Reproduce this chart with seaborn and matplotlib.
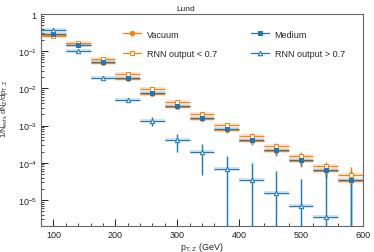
import matplotlib
matplotlib.use("Agg")
import matplotlib.pyplot as plt
import matplotlib.ticker as mticker
from matplotlib.lines import Line2D
import numpy as np
import pandas as pd
import seaborn as sns

# bin centres (GeV), bins are 40 GeV wide
pt_centres = [100, 140, 180, 220, 260, 300, 340, 380, 420, 460, 500, 540, 580]
half_width = 20

vacuum = [0.27, 0.145, 0.047, 0.018, 0.0072, 0.0032, 0.0015, 0.00075, 0.00038, 0.00021, 0.00011, 6.0e-5, 3.3e-5]
vacuum_lo = [0.26, 0.14, 0.045, 0.017, 0.0068, 0.0030, 0.0013, 0.00062, 0.00030, 0.00015, 7.5e-5, 4.0e-5, 2.5e-5]
vacuum_hi = [0.28, 0.15, 0.049, 0.019, 0.0076, 0.0035, 0.0017, 0.00090, 0.00047, 0.00029, 0.00015, 8.5e-5, 7.9e-5]

medium = [0.29, 0.15, 0.050, 0.019, 0.0075, 0.0034, 0.0016, 0.00079, 0.00040, 0.00022, 0.000117, 6.3e-5, 3.5e-5]
medium_lo = [0.28, 0.145, 0.048, 0.018, 0.0071, 0.0032, 0.0014, 0.00068, 0.00033, 0.00016, 8.0e-5, 4.2e-5, 1e-7]
medium_hi = [0.30, 0.155, 0.052, 0.020, 0.0079, 0.0036, 0.0018, 0.00092, 0.00048, 0.00029, 0.00016, 9.0e-5, 5.5e-5]

rnn_low = [0.26, 0.17, 0.061, 0.024, 0.0095, 0.0044, 0.0021, 0.00105, 0.00053, 0.00028, 0.00015, 8.3e-5, 4.6e-5]
rnn_low_lo = [0.25, 0.165, 0.059, 0.023, 0.0090, 0.0041, 0.0019, 0.00093, 0.00045, 0.00023, 0.00012, 6.5e-5, 3.3e-5]
rnn_low_hi = [0.27, 0.175, 0.063, 0.025, 0.0100, 0.0047, 0.0023, 0.00118, 0.00062, 0.00034, 0.00019, 0.000105, 6.5e-5]

rnn_high = [0.37, 0.104, 0.0196, 0.0049, 0.0013, 0.00041, 0.000195, 6.9e-5, 3.4e-5, 1.56e-5, 6.8e-6, 3.5e-6, np.nan]
rnn_high_lo = [0.35, 0.098, 0.0185, 0.0045, 0.0010, 0.00020, 4.8e-5, 1e-7, 1e-7, 1e-7, 1e-7, 1e-7, 1e-7]
rnn_high_hi = [0.40, 0.110, 0.0210, 0.0053, 0.0017, 0.00060, 0.00033, 0.00015, 9.6e-5, 6.0e-5, 3.6e-5, 6.0e-5, 3.0e-5]

ORANGE = "#ff7f0e"
BLUE = "#1f77b4"

sns.set_theme(style="ticks")
plt.rcParams["font.family"] = ["Liberation Sans", "DejaVu Sans"]
plt.rcParams["mathtext.fontset"] = "custom"
plt.rcParams["mathtext.rm"] = "Liberation Sans"
plt.rcParams["mathtext.it"] = "Liberation Sans"

fig = plt.figure(figsize=(3.74, 2.53), dpi=100)
ax = fig.add_axes([0.1096, 0.1028, 0.8610, 0.8379])

series = [
    ("Vacuum", vacuum, vacuum_lo, vacuum_hi, ORANGE, "o", True),
    ("RNN output < 0.7", rnn_low, rnn_low_lo, rnn_low_hi, ORANGE, "s", False),
    ("Medium", medium, medium_lo, medium_hi, BLUE, "s", True),
    ("RNN output > 0.7", rnn_high, rnn_high_lo, rnn_high_hi, BLUE, "^", False),
]

x = np.array(pt_centres, dtype=float)
for label, vals, lo, hi, color, marker, filled in series:
    vals = np.array(vals)
    # pale systematic band
    ax.hlines(vals, x - half_width, x + half_width, color=color, alpha=0.25, lw=2.6, zorder=2)
    ax.vlines(x, lo, hi, color=color, alpha=0.25, lw=2.0, zorder=2)
    # statistical error bars
    ax.hlines(vals, x - half_width, x + half_width, color=color, lw=0.7, zorder=3)
    ax.vlines(x, lo, hi, color=color, lw=0.7, zorder=3)
    df = pd.DataFrame({"pt": x, "val": vals}).dropna()
    sns.scatterplot(
        data=df, x="pt", y="val", ax=ax, marker=marker, s=10 if marker != "o" else 8,
        color=color if filled else "white", edgecolor=color, linewidth=0.7, zorder=4,
        legend=False,
    )

ax.set_yscale("log")
ax.set_xlim(80, 600)
ax.set_ylim(2e-6, 1)


def _fmt(v, pos):
    if v == 1:
        return "1"
    return r"$10^{%d}$" % int(round(np.log10(v)))


ax.yaxis.set_major_locator(mticker.LogLocator(base=10, numticks=10))
ax.yaxis.set_major_formatter(mticker.FuncFormatter(_fmt))
ax.yaxis.set_minor_locator(mticker.LogLocator(base=10, subs=np.arange(2, 10), numticks=20))
ax.yaxis.set_minor_formatter(mticker.NullFormatter())
ax.xaxis.set_major_locator(mticker.MultipleLocator(100))
ax.xaxis.set_minor_locator(mticker.MultipleLocator(20))

ax.tick_params(axis="both", which="major", direction="in", length=5, width=0.7,
               labelsize=6.5, colors="#222222", pad=3)
ax.tick_params(axis="both", which="minor", direction="in", length=2.5, width=0.6)
for side in ["top", "right", "left", "bottom"]:
    ax.spines[side].set_visible(True)
    ax.spines[side].set_color("#666666")
    ax.spines[side].set_linewidth(0.8)

ax.set_xlabel(r"p$_{\rm T,Z}$ (GeV)", fontsize=6.5, labelpad=1)
ax.set_ylabel(r"1/N$_{\rm evts}$ dN$_{\rm Z}$/dp$_{\rm T,Z}$", fontsize=5.5)
ax.yaxis.set_label_coords(-0.095, 0.56)

fig.text(0.497, 0.975, "Lund", fontsize=6, ha="center", va="top")

handles = []
for label, vals, lo, hi, color, marker, filled in series:
    handles.append(Line2D([], [], color=color, lw=0.9, marker=marker, markersize=3.2,
                          markerfacecolor=color if filled else "white",
                          markeredgecolor=color, markeredgewidth=0.8, label=label))
ax.legend(handles=handles, ncol=2, frameon=False, fontsize=6.5,
          loc="upper left", bbox_to_anchor=(0.23, 0.965),
          handlelength=2.0, handletextpad=0.6, columnspacing=3.8, labelspacing=1.2)

fig.savefig("out.png", dpi=100)
